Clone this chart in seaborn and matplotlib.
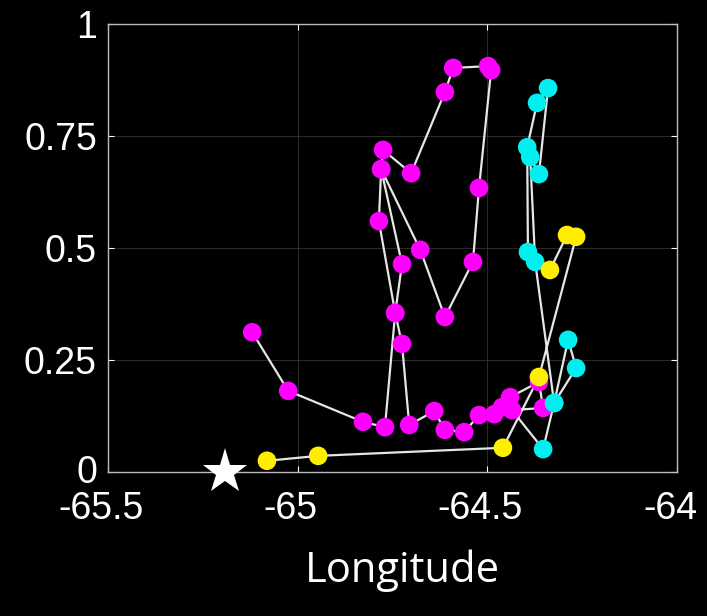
import matplotlib
matplotlib.use("Agg")
import matplotlib.pyplot as plt
from matplotlib.ticker import FixedLocator, FixedFormatter
from matplotlib.transforms import ScaledTranslation
import seaborn as sns
import pandas as pd

# Track positions, in order along the path
lon = [
    -65.120, -65.025, -64.828, -64.770, -64.743, -64.786, -64.780, -64.775,
    -64.701, -64.612, -64.590, -64.498, -64.490, -64.522, -64.538, -64.612,
    -64.677, -64.780, -64.725, -64.743, -64.725, -64.706, -64.640, -64.612,
    -64.561, -64.522, -64.482, -64.461, -64.440, -64.364, -64.353, -64.435,
    -64.353, -64.324, -64.287, -64.266, -64.324, -64.374, -64.387, -64.364,
    -64.340, -64.369, -64.395, -64.393,
    -64.335, -64.290, -64.266, -64.364, -64.459, -64.946, -65.081,
]
lat = [
    0.312, 0.181, 0.112, 0.100, 0.355, 0.560, 0.676, 0.719,
    0.667, 0.848, 0.902, 0.906, 0.897, 0.634, 0.469, 0.346,
    0.496, 0.676, 0.464, 0.355, 0.286, 0.105, 0.136, 0.094,
    0.089, 0.127, 0.129, 0.145, 0.167, 0.201, 0.143, 0.138,
    0.051, 0.154, 0.295, 0.232, 0.154, 0.469, 0.703, 0.665,
    0.857, 0.824, 0.725, 0.491,
    0.451, 0.529, 0.525, 0.212, 0.054, 0.036, 0.025,
]
phase = ["A"] * 32 + ["B"] * 12 + ["C"] * 7

# Release site
star_lon = [-65.192]
star_lat = [0.0]

x_ticks = [-65.5, -65.0, -64.5, -64.0]
x_tick_labels = ["-65.5", "-65", "-64.5", "-64"]
y_ticks = [0.0, 0.25, 0.5, 0.75, 1.0]
y_tick_labels = ["0", "0.25", "0.5", "0.75", "1"]

phase_colors = {"A": "#ff00ff", "B": "#00f0f0", "C": "#ffee00"}

df = pd.DataFrame({"lon": lon, "lat": lat, "phase": phase})

sns.set_theme(style="dark")
plt.rcParams["font.family"] = ["Liberation Sans", "DejaVu Sans"]

fig = plt.figure(figsize=(7.07, 6.16), dpi=100, facecolor="black")
ax = fig.add_axes([0.1528, 0.2338, 0.8048, 0.7272])
ax.set_facecolor("black")

sns.lineplot(data=df, x="lon", y="lat", sort=False, estimator=None,
             color="#e6e6e6", linewidth=1.6, ax=ax, zorder=2)
sns.scatterplot(data=df, x="lon", y="lat", hue="phase", palette=phase_colors,
                s=180, linewidth=0, legend=False, ax=ax, zorder=3)
ax.plot(star_lon, star_lat, marker="*", markersize=34, color="white",
        markeredgewidth=0, linestyle="none", clip_on=False, zorder=4)

ax.set_xlim(-65.5, -64.0)
ax.set_ylim(0, 1)
ax.xaxis.set_major_locator(FixedLocator(x_ticks))
ax.xaxis.set_major_formatter(FixedFormatter(x_tick_labels))
ax.yaxis.set_major_locator(FixedLocator(y_ticks))
ax.yaxis.set_major_formatter(FixedFormatter(y_tick_labels))

ax.grid(True, color="#333333", linewidth=0.6)
for side in ["left", "right", "top", "bottom"]:
    ax.spines[side].set_visible(True)
    ax.spines[side].set_color("#bdbdbd")
    ax.spines[side].set_linewidth(1.0)

ax.tick_params(axis="both", colors="white", labelsize=27, direction="in",
               length=4, width=0.8, top=True, right=True, bottom=True, left=True)
ax.tick_params(axis="x", pad=14)
ax.tick_params(axis="y", pad=8)
shift_left = ScaledTranslation(-0.07, 0, fig.dpi_scale_trans)
for lab in ax.get_xticklabels():
    lab.set_color("white")
    lab.set_transform(lab.get_transform() + shift_left)
for lab in ax.get_yticklabels():
    lab.set_color("white")
# keep the bottom y label clear of the first x label
y0_label = ax.get_yticklabels()[0]
y0_label.set_transform(y0_label.get_transform()
                       + ScaledTranslation(0, 0.03, fig.dpi_scale_trans))

ax.set_ylabel("")
ax.set_xlabel("Longitude", color="white", fontsize=30,
              family=["Open Sans", "DejaVu Sans"], labelpad=16)
ax.xaxis.label.set_transform(ax.xaxis.label.get_transform()
                             + ScaledTranslation(0.10, 0, fig.dpi_scale_trans))

fig.savefig("out.png", dpi=100, facecolor="black")
